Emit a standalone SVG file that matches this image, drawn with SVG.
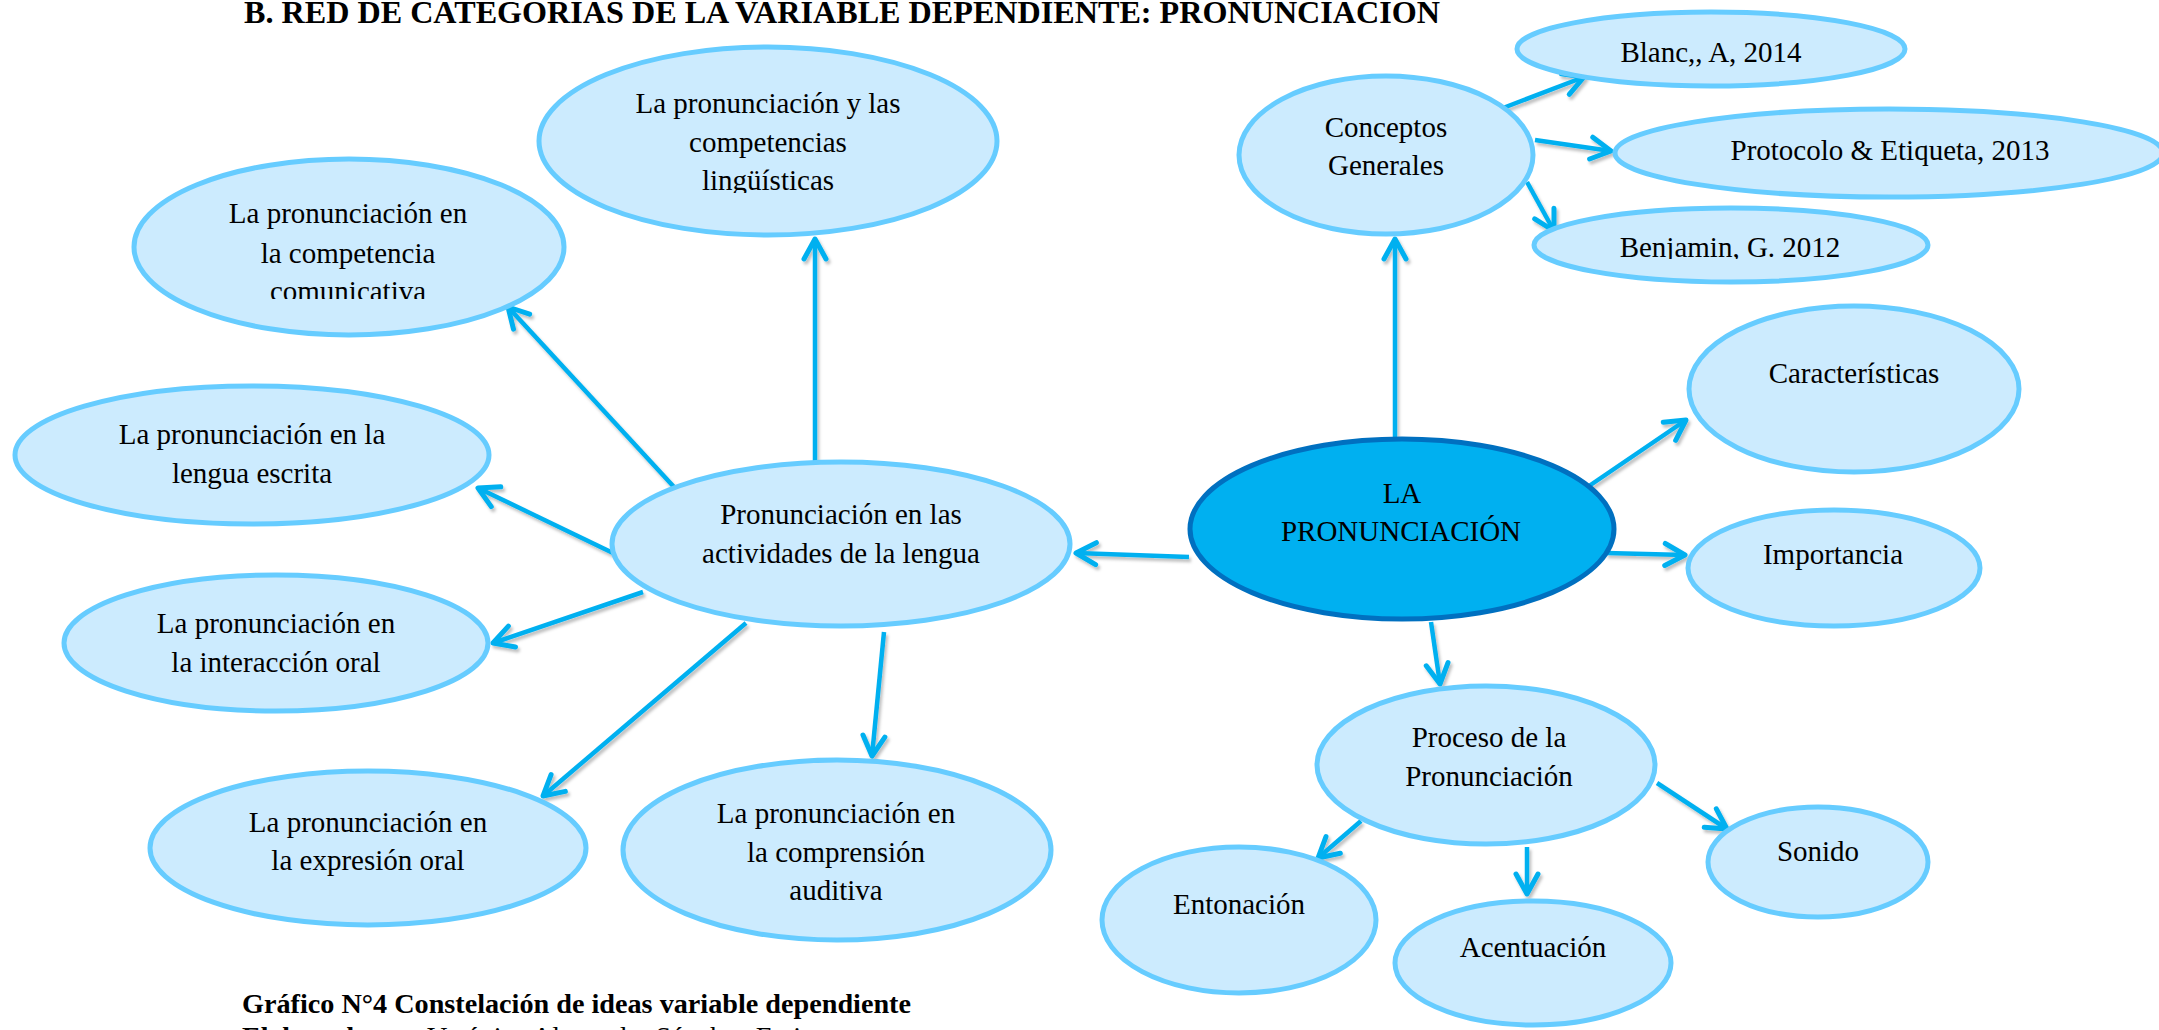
<svg xmlns="http://www.w3.org/2000/svg" width="2159" height="1030" viewBox="0 0 2159 1030">
<style>
.nd{fill:#CCEBFE;stroke:#66CCFF;stroke-width:5}
.ctr{fill:#00B0F0;stroke:#0070C0;stroke-width:5}
.t{font-family:'Liberation Serif','Times New Roman',serif;font-size:29px;fill:#000;text-anchor:middle}
.cn{stroke:#00B0F0;stroke-width:4.5;fill:none;marker-end:url(#arr)}
.hd{font-family:'Liberation Serif','Times New Roman',serif;font-weight:bold;fill:#000}
</style>
<defs>
<marker id="arr" markerUnits="userSpaceOnUse" markerWidth="30" markerHeight="30" viewBox="-25 -15 30 30" refX="0" refY="0" orient="auto" overflow="visible">
<path d="M-20,-11 L0,0 L-20,11" fill="none" stroke="#00B0F0" stroke-width="5" stroke-linecap="round" stroke-linejoin="round"/>
</marker>
<filter id="sh" x="-10%" y="-10%" width="120%" height="120%">
<feDropShadow dx="2" dy="3" stdDeviation="1.5" flood-color="#000" flood-opacity="0.25"/>
</filter>
<clipPath id="c1"><rect x="500" y="0" width="600" height="193"/></clipPath>
<clipPath id="c2"><rect x="100" y="150" width="500" height="149"/></clipPath>
<clipPath id="c3"><rect x="1500" y="200" width="500" height="59"/></clipPath>
</defs>

<text class="hd" x="244" y="23" font-size="31.5" textLength="1196" lengthAdjust="spacingAndGlyphs">B. RED DE CATEGORIAS DE LA VARIABLE DEPENDIENTE: PRONUNCIACION</text>

<g id="connectors" filter="url(#sh)">
<line class="cn" x1="1395" y1="442" x2="1395" y2="239"/>
<line class="cn" x1="1189" y1="557" x2="1076" y2="553"/>
<line class="cn" x1="1431" y1="622" x2="1440" y2="684"/>
<line class="cn" x1="1589" y1="486" x2="1686" y2="420"/>
<line class="cn" x1="1606" y1="553" x2="1685" y2="555"/>
<line class="cn" x1="1503" y1="108" x2="1584" y2="77"/>
<line class="cn" x1="1535" y1="140" x2="1611" y2="151"/>
<line class="cn" x1="1527" y1="182" x2="1554" y2="231"/>
<line class="cn" x1="815" y1="465" x2="815" y2="239"/>
<line class="cn" x1="674" y1="487" x2="508" y2="307"/>
<line class="cn" x1="613" y1="553" x2="478" y2="488"/>
<line class="cn" x1="643" y1="592" x2="493" y2="643"/>
<line class="cn" x1="746" y1="623" x2="543" y2="796"/>
<line class="cn" x1="884" y1="632" x2="872" y2="756"/>
<line class="cn" x1="1361" y1="821" x2="1318" y2="858"/>
<line class="cn" x1="1527" y1="847" x2="1527" y2="894"/>
<line class="cn" x1="1657" y1="783" x2="1727" y2="829"/>
</g>

<g id="n-competencias">
<ellipse class="nd" cx="768" cy="141" rx="229" ry="94"/>
<g clip-path="url(#c1)">
<text class="t" x="768" y="113">La pronunciación y las</text>
<text class="t" x="768" y="152">competencias</text>
<text class="t" x="768" y="190">lingüísticas</text>
</g>
</g>

<g id="n-comunicativa">
<ellipse class="nd" cx="349" cy="247" rx="215" ry="88"/>
<g clip-path="url(#c2)">
<text class="t" x="348" y="223">La pronunciación en</text>
<text class="t" x="348" y="263">la competencia</text>
<text class="t" x="348" y="301">comunicativa</text>
</g>
</g>

<g id="n-escrita">
<ellipse class="nd" cx="252" cy="455" rx="237" ry="69"/>
<text class="t" x="252" y="444">La pronunciación en la</text>
<text class="t" x="252" y="483">lengua escrita</text>
</g>

<g id="n-actividades">
<ellipse class="nd" cx="841" cy="544" rx="229" ry="82"/>
<text class="t" x="841" y="524">Pronunciación en las</text>
<text class="t" x="841" y="563">actividades de la lengua</text>
</g>

<g id="n-interaccion">
<ellipse class="nd" cx="276" cy="643" rx="212" ry="68"/>
<text class="t" x="276" y="633">La pronunciación en</text>
<text class="t" x="276" y="672">la interacción oral</text>
</g>

<g id="n-expresion">
<ellipse class="nd" cx="368" cy="848" rx="218" ry="77"/>
<text class="t" x="368" y="832">La pronunciación en</text>
<text class="t" x="368" y="870">la expresión oral</text>
</g>

<g id="n-comprension">
<ellipse class="nd" cx="837" cy="850" rx="214" ry="90"/>
<text class="t" x="836" y="823">La pronunciación en</text>
<text class="t" x="836" y="862">la comprensión</text>
<text class="t" x="836" y="900">auditiva</text>
</g>

<g id="n-central">
<ellipse class="ctr" cx="1402" cy="529" rx="212" ry="90"/>
<text class="t" x="1402" y="503">LA</text>
<text class="t" x="1401" y="541">PRONUNCIACIÓN</text>
</g>

<g id="n-conceptos">
<ellipse class="nd" cx="1386" cy="155" rx="147" ry="79"/>
<text class="t" x="1386" y="137">Conceptos</text>
<text class="t" x="1386" y="175">Generales</text>
</g>

<g id="n-blanc">
<ellipse class="nd" cx="1711" cy="49" rx="194" ry="37"/>
<text class="t" x="1711" y="62">Blanc,, A, 2014</text>
</g>

<g id="n-protocolo">
<ellipse class="nd" cx="1889" cy="153" rx="274" ry="44"/>
<text class="t" x="1890" y="160">Protocolo &amp; Etiqueta, 2013</text>
</g>

<g id="n-benjamin">
<ellipse class="nd" cx="1731" cy="245" rx="197" ry="37"/>
<g clip-path="url(#c3)">
<text class="t" x="1730" y="257">Benjamin, G. 2012</text>
</g>
</g>

<g id="n-caracteristicas">
<ellipse class="nd" cx="1854" cy="389" rx="165" ry="83"/>
<text class="t" x="1854" y="383">Características</text>
</g>

<g id="n-importancia">
<ellipse class="nd" cx="1834" cy="568" rx="146" ry="58"/>
<text class="t" x="1833" y="564">Importancia</text>
</g>

<g id="n-proceso">
<ellipse class="nd" cx="1486" cy="765" rx="169" ry="79"/>
<text class="t" x="1489" y="747">Proceso de la</text>
<text class="t" x="1489" y="786">Pronunciación</text>
</g>

<g id="n-entonacion">
<ellipse class="nd" cx="1239" cy="920" rx="137" ry="73"/>
<text class="t" x="1239" y="914">Entonación</text>
</g>

<g id="n-acentuacion">
<ellipse class="nd" cx="1533" cy="963" rx="138" ry="62"/>
<text class="t" x="1533" y="957">Acentuación</text>
</g>

<g id="n-sonido">
<ellipse class="nd" cx="1818" cy="862" rx="110" ry="55"/>
<text class="t" x="1818" y="861">Sonido</text>
</g>

<text class="hd" x="242" y="1013" font-size="28" textLength="669" lengthAdjust="spacingAndGlyphs">Gráfico N°4 Constelación de ideas variable dependiente</text>
<text class="hd" x="242" y="1046" font-size="28">Elaborado por:</text>
<text x="427" y="1046" font-family="'Liberation Serif','Times New Roman',serif" font-size="28" fill="#000">Verónica Alexandra Sánchez Freire</text>
</svg>
